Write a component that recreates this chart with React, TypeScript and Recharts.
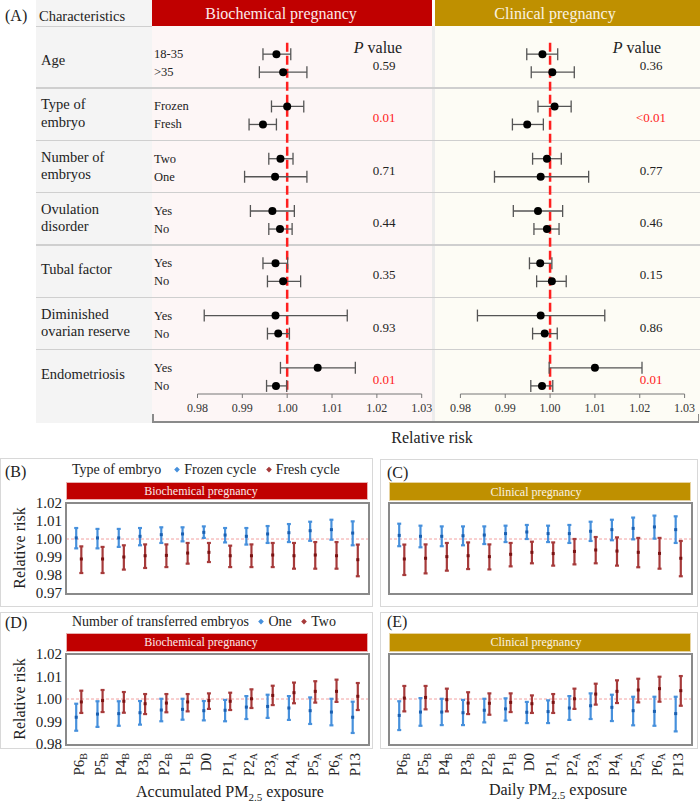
import React from 'react';
import { ScatterChart, Scatter, XAxis, YAxis, ErrorBar, ReferenceLine } from 'recharts';

const SERIF = '"Liberation Serif", "DejaVu Serif", "Times New Roman", serif';

// ---------- panel A: subgroup forest plot ----------
const groupNames = [
  'Age',
  'Type of\nembryo',
  'Number of\nembryos',
  'Ovulation\ndisorder',
  'Tubal factor',
  'Diminished\novarian reserve',
  'Endometriosis',
];
const subNames = [
  ['18-35', '>35'],
  ['Frozen', 'Fresh'],
  ['Two', 'One'],
  ['Yes', 'No'],
  ['Yes', 'No'],
  ['Yes', 'No'],
  ['Yes', 'No'],
];
const rrTicks = [0.98, 0.99, 1.0, 1.01, 1.02, 1.03];

// biochemical pregnancy, two subgroups per characteristic
const bioRR = [0.9976, 0.9991, 1.0, 0.9946, 0.9985, 0.9973, 0.9967, 0.9984, 0.9974, 0.9991, 0.9974, 0.998, 1.0068, 0.9975];
const bioLo = [0.9946, 0.9938, 0.9965, 0.9915, 0.9959, 0.9905, 0.9918, 0.9959, 0.9946, 0.9956, 0.9815, 0.9956, 0.9985, 0.9954];
const bioHi = [1.0008, 1.0044, 1.0037, 0.9976, 1.0013, 1.0044, 1.0016, 1.0011, 1.0001, 1.003, 1.0134, 1.0005, 1.0152, 0.9999];
const bioP = ['0.59', '0.01', '0.71', '0.44', '0.35', '0.93', '0.01'];

// clinical pregnancy
const cliRR = [0.9983, 1.0005, 1.001, 0.9949, 0.9993, 0.9979, 0.9973, 0.9993, 0.9978, 1.0004, 0.9979, 0.9988, 1.01, 0.9982];
const cliLo = [0.9948, 0.9958, 0.9973, 0.9916, 0.9961, 0.9876, 0.9918, 0.9964, 0.9954, 0.997, 0.9838, 0.9961, 0.9998, 0.9957];
const cliHi = [1.0017, 1.0054, 1.0047, 0.9985, 1.0025, 1.0086, 1.0028, 1.002, 1.0004, 1.0036, 1.0122, 1.0016, 1.0205, 1.0006];
const cliP = ['0.36', '<0.01', '0.77', '0.46', '0.15', '0.86', '0.01'];

// ---------- panels B-E: exposure windows ----------
const windows = [
  ['P6', 'B'], ['P5', 'B'], ['P4', 'B'], ['P3', 'B'], ['P2', 'B'], ['P1', 'B'], ['D0', ''],
  ['P1', 'A'], ['P2', 'A'], ['P3', 'A'], ['P4', 'A'], ['P5', 'A'], ['P6', 'A'], ['P13', ''],
];
const windowTicks = windows.map((_, i) => i + 1);
const upperTicks = [0.97, 0.98, 0.99, 1.0, 1.01, 1.02];
const lowerTicks = [0.98, 0.99, 1.0, 1.01, 1.02];

// (B) biochemical, by type of embryo
const frozenBio = [1.0006, 1.0006, 1.0006, 1.0015, 1.0024, 1.0028, 1.0037, 1.0022, 1.0015, 1.0028, 1.0035, 1.0046, 1.0052, 1.0033];
const frozenBioLo = [0.9948, 0.9948, 0.9956, 0.9965, 0.9978, 0.9987, 1.0006, 0.9981, 0.9969, 0.9978, 0.9983, 0.999, 0.9996, 0.9965];
const frozenBioHi = [1.0061, 1.0056, 1.0056, 1.0061, 1.0065, 1.0065, 1.007, 1.0061, 1.0061, 1.0072, 1.0083, 1.0096, 1.0107, 1.0098];
const freshBio = [0.9889, 0.9889, 0.99, 0.9907, 0.9909, 0.9922, 0.9926, 0.9907, 0.9907, 0.9911, 0.9907, 0.9911, 0.9907, 0.9885];
const freshBioLo = [0.9811, 0.9811, 0.983, 0.9839, 0.9844, 0.9863, 0.9872, 0.9844, 0.9844, 0.9844, 0.9835, 0.9835, 0.9835, 0.9793];
const freshBioHi = [0.9959, 0.9956, 0.9965, 0.997, 0.997, 0.9978, 0.9978, 0.9963, 0.997, 0.9978, 0.9978, 0.9983, 0.9983, 0.9969];

// (C) clinical, by type of embryo
const frozenCli = [1.002, 1.0015, 1.0015, 1.0018, 1.0022, 1.003, 1.0039, 1.003, 1.003, 1.0043, 1.0052, 1.0059, 1.0067, 1.0052];
const frozenCliLo = [0.996, 0.9954, 0.996, 0.9965, 0.9972, 0.9983, 1.0, 0.9983, 0.9978, 0.9989, 0.9993, 0.9998, 1.0002, 0.9978];
const frozenCliHi = [1.0085, 1.0074, 1.007, 1.007, 1.007, 1.0074, 1.0078, 1.0074, 1.0078, 1.0096, 1.0107, 1.0119, 1.013, 1.0126];
const freshCli = [0.9889, 0.9893, 0.9902, 0.9907, 0.9902, 0.9915, 0.9926, 0.9919, 0.9931, 0.9939, 0.9933, 0.9926, 0.992, 0.9893];
const freshCliLo = [0.98, 0.9809, 0.9824, 0.9833, 0.9831, 0.9848, 0.9865, 0.9852, 0.9859, 0.9865, 0.9852, 0.9843, 0.9835, 0.9793];
const freshCliHi = [0.9969, 0.997, 0.9978, 0.9981, 0.997, 0.9978, 0.9985, 0.9981, 1.0, 1.0011, 1.0009, 1.0006, 1.0006, 0.9989];

// (D) biochemical, by number of transferred embryos
const oneBio = [0.9919, 0.9933, 0.9935, 0.9939, 0.9951, 0.9954, 0.9948, 0.995, 0.9964, 0.9967, 0.996, 0.9948, 0.9942, 0.9919];
const oneBioLo = [0.9859, 0.9876, 0.9881, 0.9886, 0.9901, 0.9908, 0.9905, 0.9901, 0.9911, 0.9916, 0.9907, 0.9889, 0.9883, 0.9849];
const oneBioHi = [0.9979, 0.999, 0.999, 0.9991, 1.0001, 1.0001, 0.9991, 0.9996, 1.0013, 1.0019, 1.0013, 1.0007, 1.0001, 0.9988];
const twoBio = [0.9987, 0.9993, 0.999, 0.9979, 0.9982, 0.9987, 0.9993, 0.999, 1.0001, 1.0016, 1.0028, 1.0034, 1.0034, 1.0012];
const twoBioLo = [0.9938, 0.9942, 0.9939, 0.9933, 0.9941, 0.9945, 0.9956, 0.9951, 0.996, 0.9973, 0.9981, 0.9984, 0.9987, 0.9951];
const twoBioHi = [1.0037, 1.004, 1.0031, 1.0022, 1.0022, 1.0022, 1.0025, 1.0028, 1.0043, 1.0059, 1.0073, 1.0079, 1.0086, 1.0071];

// (E) clinical, by number of transferred embryos
const oneCli = [0.9927, 0.9942, 0.9942, 0.9939, 0.995, 0.9956, 0.9941, 0.9944, 0.996, 0.997, 0.9963, 0.9948, 0.9945, 0.9935];
const oneCliLo = [0.9862, 0.9881, 0.9884, 0.9884, 0.9896, 0.9904, 0.9893, 0.9893, 0.9907, 0.9911, 0.9902, 0.9883, 0.9881, 0.9856];
const oneCliHi = [0.999, 1.0004, 1.0001, 0.9996, 1.0001, 1.0003, 0.9987, 0.9994, 1.0013, 1.0025, 1.0019, 1.001, 1.001, 1.001];
const twoCli = [1.0004, 1.0007, 0.9997, 0.9982, 0.9981, 0.9985, 0.9979, 0.9985, 1.0001, 1.0022, 1.0034, 1.004, 1.0046, 1.0037];
const twoCliLo = [0.9945, 0.9954, 0.9945, 0.9933, 0.993, 0.9942, 0.9938, 0.9938, 0.9956, 0.9975, 0.9982, 0.9985, 0.9988, 0.997];
const twoCliHi = [1.0058, 1.0058, 1.0046, 1.003, 1.0025, 1.0025, 1.0016, 1.0022, 1.0046, 1.0068, 1.0083, 1.009, 1.0099, 1.0102];

const BLUE = '#4690dc';
const BLUE_DARK = '#1a5fb0';
const RED = '#a63a3a';
const RED_DARK = '#7a1212';

// row layout of panel A (hidden y axis runs -0.5..6.5)
const SUB = 0.345;
const A_TOP = 28;
const A_PX = 366 / 7;
const rowPx = (v: number) => A_TOP + (v + 0.5) * A_PX;

const forestRows = (est: number[], lo: number[], hi: number[]) =>
  est.map((v, k) => ({ rr: v, row: Math.floor(k / 2) + (k % 2) * SUB, err: [v - lo[k], hi[k] - v] }));

const trendRows = (est: number[], lo: number[], hi: number[], shift: number) =>
  est.map((v, k) => ({ pos: k + 1 + shift, rr: v, err: [v - lo[k], hi[k] - v] }));

const isSig = (p: string) => p.startsWith('<') || parseFloat(p) < 0.05;

const forestDot = (props: any) => <circle cx={props.cx} cy={props.cy} r={4} fill="#000" />;
const blueMark = (props: any) => <rect x={props.cx - 1.5} y={props.cy - 1.5} width={3} height={3} fill={BLUE_DARK} />;
const redMark = (props: any) => <rect x={props.cx - 1.5} y={props.cy - 1.5} width={3} height={3} fill={RED_DARK} />;

function Txt({ x, y, size, children, anchor = 'start', color = '#222', style = {} }: any) {
  const tx = anchor === 'middle' ? '-50%' : anchor === 'end' ? '-100%' : '0';
  return (
    <div
      style={{
        position: 'absolute',
        left: x,
        top: y,
        transform: `translate(${tx}, -50%)`,
        fontFamily: SERIF,
        fontSize: size,
        color,
        lineHeight: 1.2,
        whiteSpace: 'pre',
        textAlign: anchor === 'middle' ? 'center' : 'left',
        ...style,
      }}
    >
      {children}
    </div>
  );
}

function Box({ left, top, width, height, style }: any) {
  return <div style={{ position: 'absolute', left, top, width, height, boxSizing: 'border-box', ...style }} />;
}

function ForestChart({ left, width, marginLeft, marginRight, data }: any) {
  return (
    <div style={{ position: 'absolute', left, top: 0 }}>
      <ScatterChart width={width} height={430} margin={{ top: A_TOP, right: marginRight, bottom: 6, left: marginLeft }}>
        <XAxis
          type="number"
          dataKey="rr"
          domain={[0.98, 1.03]}
          ticks={rrTicks}
          interval={0}
          height={30}
          tickSize={4}
          tickMargin={5}
          stroke="#777"
          tickFormatter={(v: number) => v.toFixed(2)}
          tick={{ fill: '#333', fontSize: 12, fontFamily: SERIF }}
          allowDataOverflow
        />
        <YAxis type="number" dataKey="row" domain={[-0.5, 6.5]} reversed hide allowDataOverflow />
        <ReferenceLine
          segment={[{ x: 1, y: -0.22 }, { x: 1, y: 6.5 }]}
          stroke="#ff1f1f"
          strokeWidth={2.5}
          strokeDasharray="9 4"
        />
        <Scatter data={data} isAnimationActive={false} shape={forestDot}>
          <ErrorBar dataKey="err" direction="x" width={6} stroke="#555" strokeWidth={1.3} />
        </Scatter>
      </ScatterChart>
    </div>
  );
}

function WindowTick(props: any) {
  const { x, y, payload } = props;
  const [main, sub] = windows[payload.value - 1];
  return (
    <g transform={`translate(${x + 5},${y + 1})`}>
      <text transform="rotate(-90)" textAnchor="end" fontFamily={SERIF} fontSize={15} fill="#222">
        {main}
        {sub ? (
          <tspan fontSize={10} dy={3}>
            {sub}
          </tspan>
        ) : null}
      </text>
    </g>
  );
}

function TrendChart({ left, top, withY, lower, blue, red }: any) {
  const width = withY ? 373 : 302;
  const height = lower ? 150 : 110;
  const margin = lower
    ? { top: 24, right: withY ? 5 : 0, bottom: 4, left: 0 }
    : { top: 8, right: withY ? 5 : 0, bottom: 12, left: 0 };
  return (
    <div style={{ position: 'absolute', left, top }}>
      <ScatterChart width={width} height={height} margin={margin}>
        <XAxis
          type="number"
          dataKey="pos"
          domain={[0.4, 14.6]}
          ticks={windowTicks}
          interval={0}
          hide={!lower}
          height={32}
          tickLine={false}
          axisLine={false}
          tick={<WindowTick />}
          allowDataOverflow
        />
        <YAxis
          type="number"
          dataKey="rr"
          domain={lower ? [0.98, 1.02] : [0.97, 1.02]}
          ticks={lower ? lowerTicks : upperTicks}
          interval={0}
          hide={!withY}
          width={66}
          tickSize={4}
          tickMargin={0}
          tickLine={false}
          axisLine={false}
          tickFormatter={(v: number) => v.toFixed(2)}
          tick={{ fill: '#222', fontSize: 15, fontFamily: SERIF }}
          allowDataOverflow
        />
        <ReferenceLine y={1} stroke="#f2a0a0" strokeWidth={1} strokeDasharray="3 2" />
        <Scatter data={blue} isAnimationActive={false} shape={blueMark}>
          <ErrorBar dataKey="err" direction="y" width={2} stroke={BLUE} strokeWidth={2.2} />
        </Scatter>
        <Scatter data={red} isAnimationActive={false} shape={redMark}>
          <ErrorBar dataKey="err" direction="y" width={2} stroke={RED} strokeWidth={2.2} />
        </Scatter>
      </ScatterChart>
    </div>
  );
}

const frame = (left: number, top: number) => (
  <Box left={left - 1.5} top={top - 1.5} width={305} height={93} style={{ border: '2.5px solid #8a8a8a' }} />
);

const Diamond = ({ color }: any) => (
  <span
    style={{
      display: 'inline-block',
      width: 4,
      height: 4,
      background: color,
      transform: 'rotate(45deg)',
      margin: '0 5px 2px 0',
      verticalAlign: 'middle',
    }}
  />
);

export default function App() {
  const bioForest = forestRows(bioRR, bioLo, bioHi);
  const cliForest = forestRows(cliRR, cliLo, cliHi);

  return (
    <div style={{ position: 'absolute', left: 0, top: 0, width: 700, height: 803, background: '#fff', overflow: 'hidden' }}>
      {/* ---------- panel A backgrounds ---------- */}
      <Box left={36} top={0} width={116} height={423} style={{ background: '#f4f4f4' }} />
      <Box left={152} top={26} width={280} height={397} style={{ background: '#fdf6f6' }} />
      <Box left={435} top={26} width={265} height={397} style={{ background: '#fdfcf5' }} />
      <Box left={432} top={26} width={3} height={397} style={{ background: '#ececec' }} />
      <Box left={152} top={0} width={280} height={26} style={{ background: '#c00000' }} />
      <Box left={435} top={0} width={265} height={26} style={{ background: '#bf9000' }} />
      <Box left={36} top={25.5} width={116} height={1.5} style={{ background: '#cfcfcf' }} />
      {groupNames.slice(0, -1).map((_, g) => (
        <Box key={g} left={36} top={rowPx(g + 0.65) - 0.75} width={664} height={1.5} style={{ background: '#cfcfcf' }} />
      ))}
      {/* bracket under the two panels */}
      <Box left={152} top={421} width={547} height={1.5} style={{ background: '#8a8a8a' }} />
      <Box left={152} top={414} width={1.5} height={8.5} style={{ background: '#8a8a8a' }} />
      <Box left={697.5} top={414} width={1.5} height={8.5} style={{ background: '#8a8a8a' }} />

      {/* ---------- panel A texts ---------- */}
      <Txt x={5} y={16} size={16}>(A)</Txt>
      <Txt x={39} y={17} size={14.5}>Characteristics</Txt>
      <Txt x={281} y={14} size={16} anchor="middle" color="#fbeaea">Biochemical pregnancy</Txt>
      <Txt x={555} y={14} size={16} anchor="middle" color="#fbf3e0">Clinical pregnancy</Txt>
      <Txt x={378} y={48} size={16} anchor="middle"><i>P</i> value</Txt>
      <Txt x={637} y={48} size={16} anchor="middle"><i>P</i> value</Txt>
      {groupNames.map((name, g) => (
        <Txt key={'g' + g} x={41} y={rowPx(g + SUB / 2) - 2} size={14.5}>{name}</Txt>
      ))}
      {subNames.map((pair, g) =>
        pair.map((s, k) => (
          <Txt key={'s' + g + k} x={154} y={rowPx(g + k * SUB)} size={12.5}>{s}</Txt>
        ))
      )}
      {bioP.map((p, g) => (
        <Txt key={'bp' + g} x={384} y={rowPx(g + SUB / 2) + 3} size={13} anchor="middle" color={isSig(p) ? '#ff1a1a' : '#222'}>{p}</Txt>
      ))}
      {cliP.map((p, g) => (
        <Txt key={'cp' + g} x={651} y={rowPx(g + SUB / 2) + 3} size={13} anchor="middle" color={isSig(p) ? '#ff1a1a' : '#222'}>{p}</Txt>
      ))}
      <Txt x={432} y={438} size={16} anchor="middle">Relative risk</Txt>

      <ForestChart left={152} width={284} marginLeft={45.5} marginRight={14.3} data={bioForest} />
      <ForestChart left={435} width={265} marginLeft={25.4} marginRight={15.4} data={cliForest} />

      {/* ---------- panels B-E frames ---------- */}
      <Box left={0} top={458} width={373} height={149} style={{ border: '1px solid #d8d8d8' }} />
      <Box left={380} top={459} width={318} height={148} style={{ border: '1px solid #d8d8d8' }} />
      <Box left={0} top={612} width={373} height={137} style={{ border: '1px solid #d8d8d8' }} />
      <Box left={380} top={612} width={318} height={137} style={{ border: '1px solid #d8d8d8' }} />

      <Txt x={5} y={472} size={16}>(B)</Txt>
      <Txt x={387} y={473} size={16}>(C)</Txt>
      <Txt x={5} y={623} size={16}>(D)</Txt>
      <Txt x={387} y={622} size={16}>(E)</Txt>

      <Txt x={72} y={470} size={14}>
        Type of embryo{'    '}
        <Diamond color={BLUE} />Frozen cycle{'   '}
        <Diamond color={RED} />Fresh cycle
      </Txt>
      <Txt x={72} y={622} size={14}>
        Number of transferred embryos{'   '}
        <Diamond color={BLUE} />One{'   '}
        <Diamond color={RED} />Two
      </Txt>

      <Box left={66} top={482} width={302} height={18} style={{ background: '#c00000', border: '1px solid #e9b0b0' }} />
      <Box left={389} top={482} width={302} height={19} style={{ background: '#bf9000', border: '1px solid #e8d4a0' }} />
      <Box left={66} top={633} width={302} height={19} style={{ background: '#c00000', border: '1px solid #e9b0b0' }} />
      <Box left={389} top={633} width={302} height={19} style={{ background: '#bf9000', border: '1px solid #e8d4a0' }} />
      <Txt x={201} y={491} size={12} anchor="middle" color="#fbeaea">Biochemical pregnancy</Txt>
      <Txt x={536} y={491.5} size={12} anchor="middle" color="#fbf3e0">Clinical pregnancy</Txt>
      <Txt x={201} y={642} size={12} anchor="middle" color="#fbeaea">Biochemical pregnancy</Txt>
      <Txt x={536} y={642} size={12} anchor="middle" color="#fbf3e0">Clinical pregnancy</Txt>

      <Txt x={20} y={548} size={16} anchor="middle" style={{ transform: 'translate(-50%, -50%) rotate(-90deg)' }}>Relative risk</Txt>
      <Txt x={20} y={699} size={16} anchor="middle" style={{ transform: 'translate(-50%, -50%) rotate(-90deg)' }}>Relative risk</Txt>

      <TrendChart left={0} top={495} withY lower={false}
        blue={trendRows(frozenBio, frozenBioLo, frozenBioHi, -0.12)}
        red={trendRows(freshBio, freshBioLo, freshBioHi, 0.12)} />
      <TrendChart left={389} top={495} withY={false} lower={false}
        blue={trendRows(frozenCli, frozenCliLo, frozenCliHi, -0.12)}
        red={trendRows(freshCli, freshCliLo, freshCliHi, 0.12)} />
      <TrendChart left={0} top={630} withY lower
        blue={trendRows(oneBio, oneBioLo, oneBioHi, -0.12)}
        red={trendRows(twoBio, twoBioLo, twoBioHi, 0.12)} />
      <TrendChart left={389} top={630} withY={false} lower
        blue={trendRows(oneCli, oneCliLo, oneCliHi, -0.12)}
        red={trendRows(twoCli, twoCliLo, twoCliHi, 0.12)} />

      {frame(66, 503)}
      {frame(389, 503)}
      {frame(66, 654)}
      {frame(389, 654)}

      <Txt x={230} y={793} size={16} anchor="middle">
        Accumulated PM<sub style={{ fontSize: 11 }}>2.5</sub> exposure
      </Txt>
      <Txt x={558} y={791} size={16} anchor="middle">
        Daily PM<sub style={{ fontSize: 11 }}>2.5</sub> exposure
      </Txt>
    </div>
  );
}
